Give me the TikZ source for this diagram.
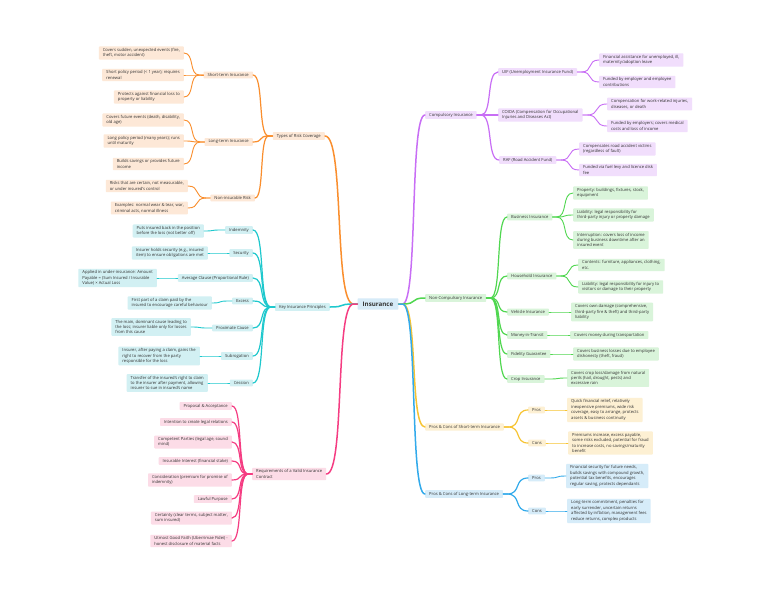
\documentclass[tikz,border=0pt]{standalone}
\usepackage{fontspec}
\setmainfont{Open Sans}
\usetikzlibrary{calc}
\definecolor{oL}{RGB}{250,142,45}\definecolor{oF}{RGB}{253,232,215}
\definecolor{cL}{RGB}{30,200,205}\definecolor{cF}{RGB}{210,240,243}
\definecolor{pL}{RGB}{245,60,130}\definecolor{pF}{RGB}{252,220,231}
\definecolor{uL}{RGB}{200,110,245}\definecolor{uF}{RGB}{241,222,252}
\definecolor{gL}{RGB}{80,215,80}\definecolor{gF}{RGB}{217,244,218}
\definecolor{yL}{RGB}{247,196,50}\definecolor{yF}{RGB}{253,240,211}
\definecolor{bL}{RGB}{50,170,235}\definecolor{bF}{RGB}{214,236,249}
\definecolor{zF}{RGB}{214,235,248}
\definecolor{txt}{RGB}{50,50,50}
\tikzset{
  bx/.style={font=\fontsize{4.15}{5.4}\selectfont, text=txt, align=left, inner xsep=4pt, inner ysep=1.9pt, rounded corners=0.8pt},
  L/.style={bx, anchor=east}, R/.style={bx, anchor=west},
  fo/.style={fill=oF}, fc/.style={fill=cF}, fp/.style={fill=pF}, fu/.style={fill=uF},
  fg/.style={fill=gF}, fy/.style={fill=yF}, fb/.style={fill=bF},
  w1/.style={line width=0.9pt, line cap=round}, w2/.style={line width=1.2pt, line cap=round}, w3/.style={line width=1.5pt, line cap=round},
  ctr/.style={font=\fontsize{6.2}{7}\selectfont\bfseries, text=txt, fill=zF, inner xsep=5pt, inner ysep=3.5pt, rounded corners=0.8pt}
}
\newcommand\lkL[3]{\draw[#1] (#2.west) -- ++(-4,0) let \p1=($(#2.west)+(-4,0)$), \p2=(#3.east) in .. controls ({\x1+0.7*(\x2-\x1)},\y1) and ({\x1+0.3*(\x2-\x1)},\y2) .. (\p2);}
\newcommand\lkR[3]{\draw[#1] (#2.east) -- ++(4,0) let \p1=($(#2.east)+(4,0)$), \p2=(#3.west) in .. controls ({\x1+0.7*(\x2-\x1)},\y1) and ({\x1+0.3*(\x2-\x1)},\y2) .. (\p2);}
\begin{document}
\begin{tikzpicture}[x=1pt,y=-1pt]
\useasboundingbox[fill=white] (0,0) rectangle (768,594);
% centre
\node[ctr] (ins) at (378,304) {Insurance};
% orange
\node[L,fo] (typ) at (325,136) {Types of Risk Coverage};
\node[L,fo] (st) at (253,75) {Short-term Insurance};
\node[L,fo] (lt) at (253,142) {Long-term Insurance};
\node[L,fo] (ni) at (255,198) {Non-insurable Risk};
\node[L,fo] (st1) at (184,53) {Covers sudden, unexpected events (fire,\\theft, motor accident)};
\node[L,fo] (st2) at (184,75) {Short policy period (< 1 year); requires\\renewal};
\node[L,fo] (st3) at (184,97) {Protects against financial loss to\\property or liability};
\node[L,fo] (lt1) at (184,120) {Covers future events (death, disability,\\old age)};
\node[L,fo] (lt2) at (184,141) {Long policy period (many years); runs\\until maturity};
\node[L,fo] (lt3) at (184,164) {Builds savings or provides future\\income};
\node[L,fo] (ni1) at (188,186) {Risks that are certain, not measurable,\\or under insured's control};
\node[L,fo] (ni2) at (188,208) {Examples: normal wear \& tear, war,\\criminal acts, normal illness};
% cyan
\node[L,fc] (kip) at (330,307) {Key Insurance Principles};
\node[L,fc] (ind) at (253,230) {Indemnity};
\node[L,fc] (sec) at (253,253) {Security};
\node[L,fc] (avg) at (253,278) {Average Clause (Proportional Rule)};
\node[L,fc] (exc) at (253,301) {Excess};
\node[L,fc] (prc) at (253,328) {Proximate Cause};
\node[L,fc] (sub) at (253,356) {Subrogation};
\node[L,fc] (ces) at (253,383) {Cession};
\node[L,fc] (ind1) at (204,231) {Puts insured back in the position\\before the loss (not better off)};
\node[L,fc] (sec1) at (208,253) {Insurer holds security (e.g., insured\\item) to ensure obligations are met};
\node[L,fc] (avg1) at (157,278) {Applied in under-insurance: Amount\\Payable = (Sum Insured / Insurable\\Value) × Actual Loss};
\node[L,fc] (exc1) at (212,303) {First part of a claim paid by the\\insured to encourage careful behaviour};
\node[L,fc] (prc1) at (191,327) {The main, dominant cause leading to\\the loss; insurer liable only for losses\\from this cause};
\node[L,fc] (sub1) at (200,356) {Insurer, after paying a claim, gains the\\right to recover from the party\\responsible for the loss};
\node[L,fc] (ces1) at (208,383) {Transfer of the insured's right to claim\\to the insurer after payment, allowing\\insurer to sue in insured's name};
% pink
\node[R,fp] (req) at (252,474) {Requirements of a Valid Insurance\\Contract};
\node[L,fp] (rq1) at (232,406) {Proposal \& Acceptance};
\node[L,fp] (rq2) at (232,422) {Intention to create legal relations};
\node[L,fp] (rq3) at (232,442) {Competent Parties (legal age, sound\\mind)};
\node[L,fp] (rq4) at (232,461) {Insurable Interest (financial stake)};
\node[L,fp] (rq5) at (232,480) {Consideration (premium for promise of\\indemnity)};
\node[L,fp] (rq6) at (232,499) {Lawful Purpose};
\node[L,fp] (rq7) at (232,518) {Certainty (clear terms, subject matter,\\sum insured)};
\node[L,fp] (rq8) at (232,541) {Utmost Good Faith (Uberrimae Fidei) -\\honest disclosure of material facts};
% purple
\node[R,fu] (cmp) at (425,115) {Compulsory Insurance};
\node[R,fu] (uif) at (498,72) {UIF (Unemployment Insurance Fund)};
\node[R,fu] (coi) at (498,115) {COIDA (Compensation for Occupational\\Injuries and Diseases Act)};
\node[R,fu] (raf) at (499,160) {RAF (Road Accident Fund)};
\node[R,fu] (uif1) at (599,60) {Financial assistance for unemployed, ill,\\maternity/adoption leave};
\node[R,fu] (uif2) at (599,82) {Funded by employer and employee\\contributions};
\node[R,fu] (coi1) at (607,104) {Compensation for work-related injuries,\\diseases, or death};
\node[R,fu] (coi2) at (607,126) {Funded by employers; covers medical\\costs and loss of income};
\node[R,fu] (raf1) at (579,149) {Compensates road accident victims\\(regardless of fault)};
\node[R,fu] (raf2) at (579,170) {Funded via fuel levy and licence disk\\fee};
% green
\node[R,fg] (ncp) at (425,298) {Non-Compulsory Insurance};
\node[R,fg] (bus) at (507,217) {Business Insurance};
\node[R,fg] (hh) at (507,276) {Household Insurance};
\node[R,fg] (veh) at (507,312) {Vehicle Insurance};
\node[R,fg] (mit) at (507,335) {Money-in-Transit};
\node[R,fg] (fid) at (507,354) {Fidelity Guarantee};
\node[R,fg] (crp) at (507,379) {Crop Insurance};
\node[R,fg] (bus1) at (573,193) {Property: buildings, fixtures, stock,\\equipment};
\node[R,fg] (bus2) at (573,215) {Liability: legal responsibility for\\third-party injury or property damage};
\node[R,fg] (bus3) at (573,240) {Interruption: covers loss of income\\during business downtime after an\\insured event};
\node[R,fg] (hh1) at (578,265) {Contents: furniture, appliances, clothing,\\etc.};
\node[R,fg] (hh2) at (578,287) {Liability: legal responsibility for injury to\\visitors or damage to their property};
\node[R,fg] (veh1) at (571,312) {Covers own damage (comprehensive,\\third-party fire \& theft) and third-party\\liability};
\node[R,fg] (mit1) at (570,335) {Covers money during transportation};
\node[R,fg] (fid1) at (573,354) {Covers business losses due to employee\\dishonesty (theft, fraud)};
\node[R,fg] (crp1) at (567,378) {Covers crop loss/damage from natural\\perils (hail, drought, pests) and\\excessive rain};
% yellow
\node[R,fy] (pcs) at (425,427) {Pros \& Cons of Short-term Insurance};
\node[R,fy] (sp) at (528,410) {Pros};
\node[R,fy] (sc) at (528,443) {Cons};
\node[R,fy] (sp1) at (567,410) {Quick financial relief, relatively\\inexpensive premiums, wide risk\\coverage, easy to arrange, protects\\assets \& business continuity};
\node[R,fy] (sc1) at (568,443) {Premiums increase, excess payable,\\some risks excluded, potential for fraud\\to increase costs, no savings/maturity\\benefit};
% blue
\node[R,fb] (pcl) at (425,494) {Pros \& Cons of Long-term Insurance};
\node[R,fb] (lp) at (528,478) {Pros};
\node[R,fb] (lc) at (528,511) {Cons};
\node[R,fb] (lp1) at (566,476) {Financial security for future needs,\\builds savings with compound growth,\\potential tax benefits, encourages\\regular saving, protects dependants};
\node[R,fb] (lc1) at (567,511) {Long-term commitment, penalties for\\early surrender, uncertain returns\\affected by inflation, management fees\\reduce returns, complex products};
% main connectors
\lkL{oL,w3}{ins}{typ}
\lkL{cL,w3}{ins}{kip}
\lkL{pL,w3}{ins}{req}
\lkR{uL,w3}{ins}{cmp}
\lkR{gL,w3}{ins}{ncp}
\lkR{yL,w3}{ins}{pcs}
\lkR{bL,w3}{ins}{pcl}
% orange
\lkL{oL,w2}{typ}{st}\lkL{oL,w2}{typ}{lt}\lkL{oL,w2}{typ}{ni}
\lkL{oL,w1}{st}{st1}\lkL{oL,w1}{st}{st2}\lkL{oL,w1}{st}{st3}
\lkL{oL,w1}{lt}{lt1}\lkL{oL,w1}{lt}{lt2}\lkL{oL,w1}{lt}{lt3}
\lkL{oL,w1}{ni}{ni1}\lkL{oL,w1}{ni}{ni2}
% cyan
\lkL{cL,w2}{kip}{ind}\lkL{cL,w2}{kip}{sec}\lkL{cL,w2}{kip}{avg}\lkL{cL,w2}{kip}{exc}
\lkL{cL,w2}{kip}{prc}\lkL{cL,w2}{kip}{sub}\lkL{cL,w2}{kip}{ces}
\lkL{cL,w1}{ind}{ind1}\lkL{cL,w1}{sec}{sec1}\lkL{cL,w1}{avg}{avg1}\lkL{cL,w1}{exc}{exc1}
\lkL{cL,w1}{prc}{prc1}\lkL{cL,w1}{sub}{sub1}\lkL{cL,w1}{ces}{ces1}
% pink
\lkL{pL,w2}{req}{rq1}\lkL{pL,w2}{req}{rq2}\lkL{pL,w2}{req}{rq3}\lkL{pL,w2}{req}{rq4}
\lkL{pL,w2}{req}{rq5}\lkL{pL,w2}{req}{rq6}\lkL{pL,w2}{req}{rq7}\lkL{pL,w2}{req}{rq8}
% purple
\lkR{uL,w2}{cmp}{uif}\lkR{uL,w2}{cmp}{coi}\lkR{uL,w2}{cmp}{raf}
\lkR{uL,w1}{uif}{uif1}\lkR{uL,w1}{uif}{uif2}
\lkR{uL,w1}{coi}{coi1}\lkR{uL,w1}{coi}{coi2}
\lkR{uL,w1}{raf}{raf1}\lkR{uL,w1}{raf}{raf2}
% green
\lkR{gL,w2}{ncp}{bus}\lkR{gL,w2}{ncp}{hh}\lkR{gL,w2}{ncp}{veh}
\lkR{gL,w2}{ncp}{mit}\lkR{gL,w2}{ncp}{fid}\lkR{gL,w2}{ncp}{crp}
\lkR{gL,w1}{bus}{bus1}\lkR{gL,w1}{bus}{bus2}\lkR{gL,w1}{bus}{bus3}
\lkR{gL,w1}{hh}{hh1}\lkR{gL,w1}{hh}{hh2}
\lkR{gL,w1}{veh}{veh1}\lkR{gL,w1}{mit}{mit1}\lkR{gL,w1}{fid}{fid1}\lkR{gL,w1}{crp}{crp1}
% yellow
\lkR{yL,w2}{pcs}{sp}\lkR{yL,w2}{pcs}{sc}
\lkR{yL,w1}{sp}{sp1}\lkR{yL,w1}{sc}{sc1}
% blue
\lkR{bL,w2}{pcl}{lp}\lkR{bL,w2}{pcl}{lc}
\lkR{bL,w1}{lp}{lp1}\lkR{bL,w1}{lc}{lc1}
\end{tikzpicture}
\end{document}
